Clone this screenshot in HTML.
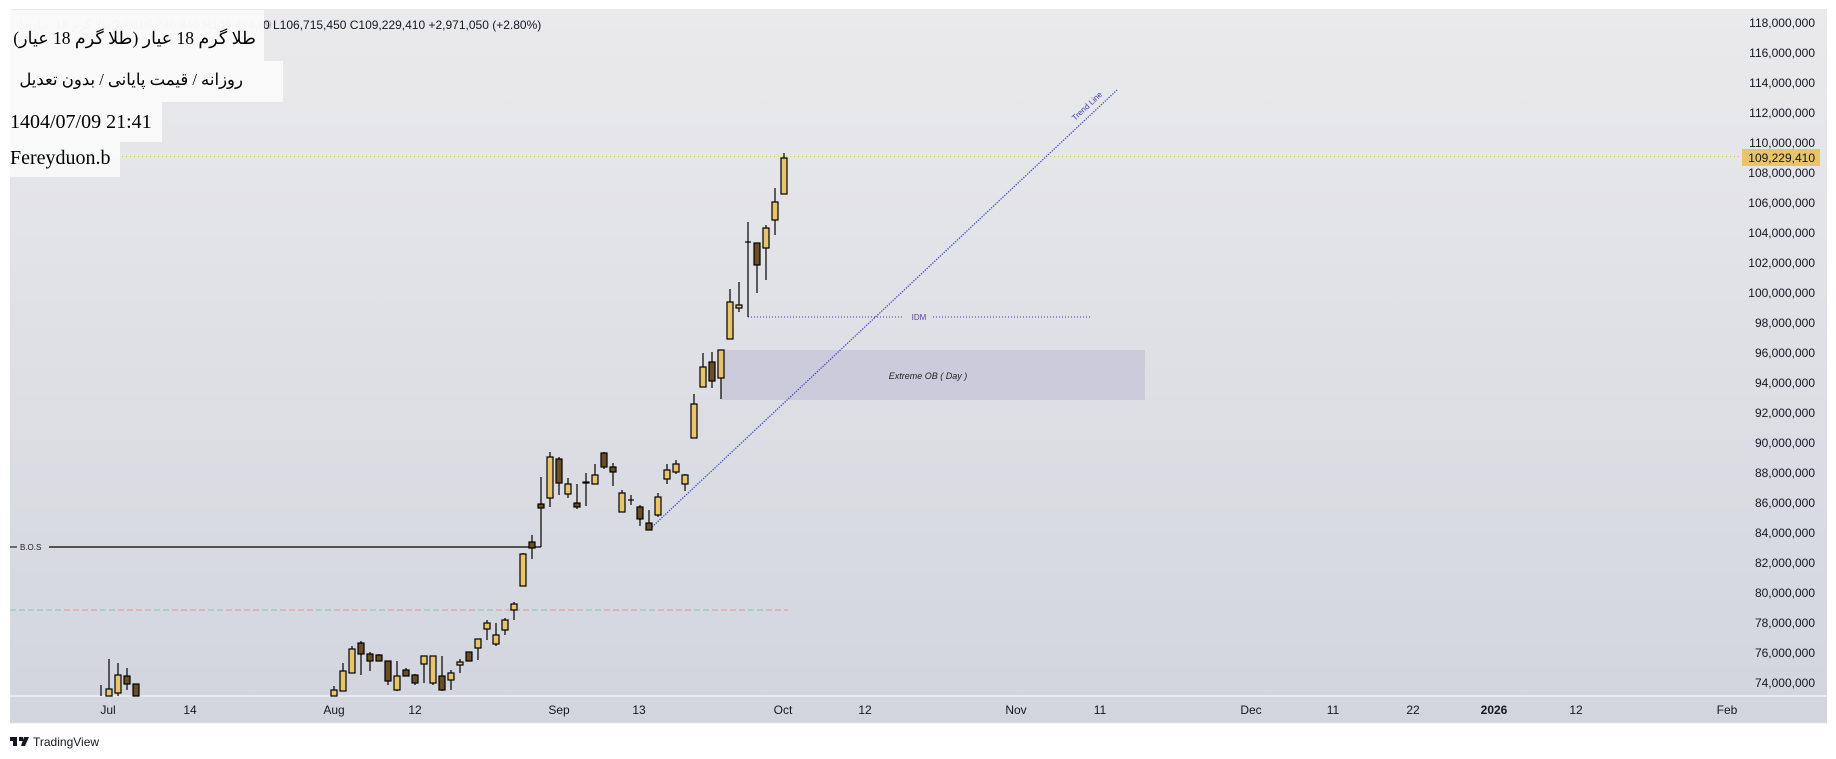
<!DOCTYPE html>
<html><head><meta charset="utf-8"><style>
html,body{margin:0;padding:0;background:#fff;width:1836px;height:759px;overflow:hidden;position:relative}
svg{display:block;font-family:"Liberation Sans","Noto Sans CJK SC",sans-serif}
.b{position:absolute;left:10px;background:rgba(250,250,250,0.93);font-family:"Liberation Serif","DejaVu Serif",serif;font-size:20px;color:#000;white-space:nowrap;box-sizing:border-box}
.ar{font-size:17.5px}
</style></head><body>
<svg width="1836" height="759" viewBox="0 0 1836 759" xmlns="http://www.w3.org/2000/svg">
<defs><linearGradient id="bg" x1="0" y1="0" x2="0" y2="1"><stop offset="0" stop-color="#eaeaec"/><stop offset="1" stop-color="#d2d5de"/></linearGradient></defs>
<rect x="10" y="9" width="1817" height="714" fill="url(#bg)"/>
<line x1="10" y1="696" x2="1827" y2="696" stroke="#eef0f3" stroke-width="1.5"/>
<line x1="10" y1="723" x2="1827" y2="723" stroke="#e6e7ea" stroke-width="1"/>
<g font-size="12" fill="#131722" text-anchor="end">
<text x="1815" y="27">118,000,000</text><text x="1815" y="57">116,000,000</text><text x="1815" y="87">114,000,000</text><text x="1815" y="117">112,000,000</text><text x="1815" y="147">110,000,000</text><text x="1815" y="177">108,000,000</text><text x="1815" y="207">106,000,000</text><text x="1815" y="237">104,000,000</text><text x="1815" y="267">102,000,000</text><text x="1815" y="297">100,000,000</text><text x="1815" y="327">98,000,000</text><text x="1815" y="357">96,000,000</text><text x="1815" y="387">94,000,000</text><text x="1815" y="417">92,000,000</text><text x="1815" y="447">90,000,000</text><text x="1815" y="477">88,000,000</text><text x="1815" y="507">86,000,000</text><text x="1815" y="537">84,000,000</text><text x="1815" y="567">82,000,000</text><text x="1815" y="597">80,000,000</text><text x="1815" y="627">78,000,000</text><text x="1815" y="657">76,000,000</text><text x="1815" y="687">74,000,000</text>
</g>
<line x1="10" y1="156.5" x2="1742" y2="156.5" stroke="#e3b85a" stroke-dasharray="1,3"/>
<rect x="1742" y="149" width="78" height="17" fill="#e8c46a"/>
<text x="1815" y="162" font-size="12" fill="#131722" text-anchor="end">109,229,410</text>
<g font-size="12" fill="#131722" text-anchor="middle">
<text x="108" y="714">Jul</text><text x="190" y="714">14</text><text x="334" y="714">Aug</text><text x="415" y="714">12</text><text x="559" y="714">Sep</text><text x="639" y="714">13</text><text x="783" y="714">Oct</text><text x="865" y="714">12</text><text x="1016" y="714">Nov</text><text x="1100" y="714">11</text><text x="1251" y="714">Dec</text><text x="1333" y="714">11</text><text x="1413" y="714">22</text><text x="1494" y="714" font-weight="bold">2026</text><text x="1576" y="714">12</text><text x="1727" y="714">Feb</text>
</g>
<rect x="721" y="350" width="424" height="50" fill="#cccbdb"/>
<text x="928" y="379" font-size="9" font-style="italic" fill="#222" text-anchor="middle">Extreme OB ( Day )</text>
<line x1="748" y1="317" x2="904" y2="317" stroke="#3a3aa0" stroke-dasharray="1,2"/>
<line x1="933" y1="317" x2="1091" y2="317" stroke="#3a3aa0" stroke-dasharray="1,2"/>
<text x="919" y="320" font-size="8" fill="#5a3fa0" text-anchor="middle">IDM</text>
<line x1="10" y1="547" x2="17" y2="547" stroke="#000"/>
<text x="20" y="550" font-size="8" fill="#222">B.O.S</text>
<line x1="49" y1="547" x2="541" y2="547" stroke="#000" stroke-width="1.2"/>
<line x1="541" y1="547" x2="541" y2="477" stroke="#000"/>
<line x1="10" y1="610" x2="788" y2="610" stroke="#7fc4b4" stroke-dasharray="6,3"/>
<line x1="64" y1="610" x2="788" y2="610" stroke="#ee9090" stroke-dasharray="6,3,6,3,6,3,6,21" opacity="0.9"/>
<line x1="652" y1="527" x2="1117" y2="90" stroke="#3a4ec0" stroke-width="1.3" stroke-dasharray="1.3,1.3"/>
<text x="0" y="0" font-size="8" fill="#3a3aa0" transform="translate(1075,121) rotate(-43)">Trend Line</text>
<g stroke="#000" stroke-width="1.2">
<line x1="101" y1="685" x2="101" y2="696"/>
<line x1="109" y1="659" x2="109" y2="696"/><rect x="106" y="689" width="6" height="7" fill="#e8c46a"/>
<line x1="118" y1="663" x2="118" y2="696"/><rect x="115" y="675" width="6" height="18" fill="#e8c46a"/>
<line x1="127" y1="668" x2="127" y2="690"/><rect x="124" y="676" width="6" height="8" fill="#6b4e23"/>
<rect x="133" y="684" width="6" height="12" fill="#6b4e23"/>
<line x1="334" y1="686" x2="334" y2="696"/><rect x="331" y="690" width="6" height="6" fill="#e8c46a"/>
<line x1="343" y1="663" x2="343" y2="691"/><rect x="340" y="671" width="6" height="20" fill="#e8c46a"/>
<line x1="352" y1="646" x2="352" y2="673"/><rect x="349" y="649" width="6" height="24" fill="#e8c46a"/>
<line x1="361" y1="641" x2="361" y2="675"/><rect x="358" y="643" width="6" height="11" fill="#6b4e23"/>
<line x1="370" y1="652" x2="370" y2="671"/><rect x="367" y="654" width="6" height="7" fill="#6b4e23"/>
<line x1="379" y1="654" x2="379" y2="661"/><rect x="376" y="655" width="6" height="6" fill="#6b4e23"/>
<line x1="388" y1="661" x2="388" y2="685"/><rect x="385" y="661" width="6" height="20" fill="#6b4e23"/>
<line x1="397" y1="661" x2="397" y2="691"/><rect x="394" y="676" width="6" height="14" fill="#e8c46a"/>
<line x1="406" y1="668" x2="406" y2="676"/><rect x="403" y="670" width="6" height="6" fill="#6b4e23"/>
<line x1="415" y1="674" x2="415" y2="685"/><rect x="412" y="675" width="6" height="8" fill="#6b4e23"/>
<line x1="424" y1="656" x2="424" y2="683"/><rect x="421" y="656" width="6" height="8" fill="#e8c46a"/>
<line x1="433" y1="656" x2="433" y2="685"/><rect x="430" y="656" width="6" height="27" fill="#e8c46a"/>
<line x1="442" y1="656" x2="442" y2="691"/><rect x="439" y="676" width="6" height="14" fill="#6b4e23"/>
<line x1="451" y1="670" x2="451" y2="690"/><rect x="448" y="673" width="6" height="7" fill="#e8c46a"/>
<line x1="460" y1="659" x2="460" y2="673"/><rect x="457" y="662" width="6" height="3" fill="#e8c46a"/>
<rect x="466" y="652" width="6" height="9" fill="#6b4e23"/>
<line x1="478" y1="639" x2="478" y2="660"/><rect x="475" y="639" width="6" height="9" fill="#e8c46a"/>
<line x1="487" y1="620" x2="487" y2="640"/><rect x="484" y="623" width="6" height="6" fill="#e8c46a"/>
<line x1="496" y1="623" x2="496" y2="646"/><rect x="493" y="635" width="6" height="9" fill="#e8c46a"/>
<line x1="505" y1="618" x2="505" y2="635"/><rect x="502" y="620" width="6" height="10" fill="#e8c46a"/>
<line x1="514" y1="602" x2="514" y2="620"/><rect x="511" y="604" width="6" height="6" fill="#e8c46a"/>
<line x1="523" y1="553" x2="523" y2="586"/><rect x="520" y="554" width="6" height="32" fill="#e8c46a"/>
<line x1="532" y1="535" x2="532" y2="559"/><rect x="529" y="542" width="6" height="6" fill="#6b4e23"/>
<line x1="541" y1="477" x2="541" y2="547"/><rect x="538" y="504" width="6" height="4" fill="#6b4e23"/>
<line x1="550" y1="452" x2="550" y2="507"/><rect x="547" y="457" width="6" height="41" fill="#e8c46a"/>
<line x1="559" y1="457" x2="559" y2="495"/><rect x="556" y="459" width="6" height="24" fill="#6b4e23"/>
<line x1="568" y1="478" x2="568" y2="498"/><rect x="565" y="484" width="6" height="10" fill="#e8c46a"/>
<line x1="577" y1="484" x2="577" y2="509"/><rect x="574" y="503" width="6" height="4" fill="#6b4e23"/>
<line x1="586" y1="473" x2="586" y2="506"/><rect x="583" y="482" width="6" height="1" fill="#6b4e23"/>
<line x1="595" y1="464" x2="595" y2="484"/><rect x="592" y="475" width="6" height="9" fill="#e8c46a"/>
<line x1="604" y1="452" x2="604" y2="469"/><rect x="601" y="453" width="6" height="14" fill="#6b4e23"/>
<line x1="613" y1="463" x2="613" y2="486"/><rect x="610" y="467" width="6" height="5" fill="#6b4e23"/>
<line x1="622" y1="490" x2="622" y2="512"/><rect x="619" y="493" width="6" height="19" fill="#e8c46a"/>
<line x1="631" y1="495" x2="631" y2="505"/><line x1="628" y1="500" x2="634" y2="500"/>
<line x1="640" y1="505" x2="640" y2="526"/><rect x="637" y="507" width="6" height="12" fill="#6b4e23"/>
<line x1="649" y1="510" x2="649" y2="530"/><rect x="646" y="523" width="6" height="7" fill="#6b4e23"/>
<line x1="658" y1="493" x2="658" y2="517"/><rect x="655" y="497" width="6" height="18" fill="#e8c46a"/>
<line x1="667" y1="464" x2="667" y2="484"/><rect x="664" y="470" width="6" height="9" fill="#e8c46a"/>
<line x1="676" y1="460" x2="676" y2="474"/><rect x="673" y="464" width="6" height="8" fill="#e8c46a"/>
<line x1="685" y1="474" x2="685" y2="491"/><rect x="682" y="475" width="6" height="9" fill="#e8c46a"/>
<line x1="694" y1="394" x2="694" y2="438"/><rect x="691" y="404" width="6" height="34" fill="#e8c46a"/>
<line x1="703" y1="353" x2="703" y2="387"/><rect x="700" y="367" width="6" height="20" fill="#e8c46a"/>
<line x1="712" y1="352" x2="712" y2="388"/><rect x="709" y="362" width="6" height="19" fill="#6b4e23"/>
<line x1="721" y1="350" x2="721" y2="399"/><rect x="718" y="350" width="6" height="28" fill="#e8c46a"/>
<line x1="730" y1="289" x2="730" y2="339"/><rect x="727" y="302" width="6" height="37" fill="#e8c46a"/>
<line x1="739" y1="282" x2="739" y2="312"/><rect x="736" y="305" width="6" height="3" fill="#e8c46a"/>
<line x1="748" y1="222" x2="748" y2="317"/><line x1="745" y1="242" x2="751" y2="242"/>
<line x1="757" y1="243" x2="757" y2="293"/><rect x="754" y="243" width="6" height="22" fill="#6b4e23"/>
<line x1="766" y1="225" x2="766" y2="280"/><rect x="763" y="228" width="6" height="20" fill="#e8c46a"/>
<line x1="775" y1="188" x2="775" y2="235"/><rect x="772" y="202" width="6" height="18" fill="#e8c46a"/>
<line x1="784" y1="153" x2="784" y2="194"/><rect x="781" y="158" width="6" height="36" fill="#e8c46a"/>
</g>
<text x="18" y="29" font-size="12" fill="#b0b0b4">طلا گرم 18 عیار, 1D  O106,740,840  H109,494,89</text>
<text x="263" y="29" font-size="12" fill="#131722">0  L106,715,450  C109,229,410  +2,971,050 (+2.80%)</text>
<g fill="#131722"><rect x="10" y="737" width="7" height="4"/><rect x="13" y="737" width="4" height="9"/><rect x="19" y="737" width="4" height="4"/><polygon points="24,737 29,737 25,746 21,746"/></g>
<text x="33" y="746" font-size="12" fill="#131722">TradingView</text>
</svg>
<div class="b ar" dir="rtl" style="top:10px;width:254px;height:51px;padding:18px 8px 0 0;line-height:20px;text-align:right">طلا گرم 18 عیار (طلا گرم 18 عیار)</div>
<div class="b ar" dir="rtl" style="top:61px;width:273px;height:41px;padding:9px 40px 0 0;line-height:20px;text-align:right;font-size:16.5px">روزانه / قیمت پایانی / بدون تعدیل</div>
<div class="b" style="top:102px;width:152px;height:40px;padding:9px 0 0 0;line-height:22px">1404/07/09 21:41</div>
<div class="b" style="top:142px;width:110px;height:35px;padding:5px 0 0 0;line-height:22px">Fereyduon.b</div>
</body></html>
